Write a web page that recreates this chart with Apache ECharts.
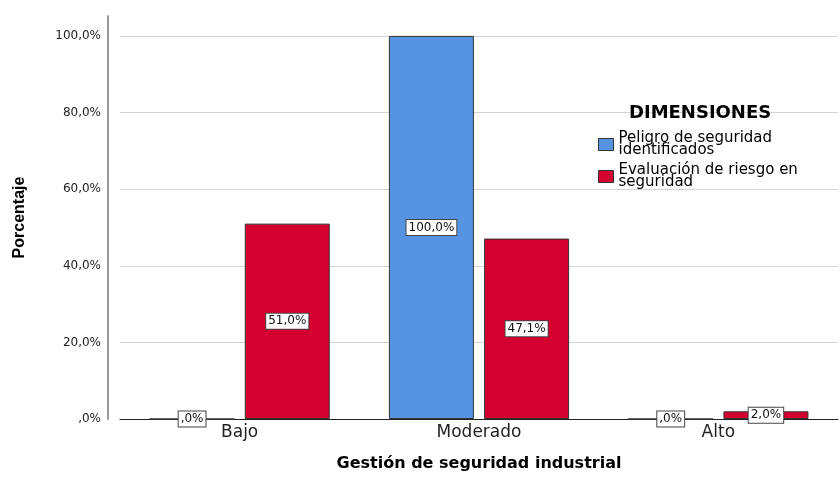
<!DOCTYPE html>
<html>
<head>
<meta charset="utf-8">
<script src="https://cdn.jsdelivr.net/npm/echarts@6/dist/echarts.min.js"></script>
<style>
  html, body { margin: 0; padding: 0; background: #fff; }
  #chart { width: 840px; height: 477px; }
</style>
</head>
<body>
<div id="chart"></div>
<script>
// Categories and percentages per dimension
const categories = ['Bajo', 'Moderado', 'Alto'];
const seriesNames = ['Peligro de seguridad identificados', 'Evaluación de riesgo en seguridad'];
const peligroValues = [0, 100, 0];
const evaluacionValues = [51, 47.1, 2];
const yTicks = [0, 20, 40, 60, 80, 100];

// SPSS-style percent text: ",0%", "51,0%"
function pct(v) {
  if (v === 0) return ',0%';
  return v.toFixed(1).replace('.', ',') + '%';
}

const colors = ['#5694E2', '#D4002F'];
const wideFont = 'DejaVu Sans, Verdana, sans-serif';

const labelStyle = {
  show: true,
  position: 'inside',
  formatter: p => pct(p.value),
  color: '#111',
  fontFamily: wideFont,
  fontSize: 12,
  backgroundColor: '#fff',
  borderColor: '#444',
  borderWidth: 1,
  padding: [2, 2, 1, 2]
};

const chart = echarts.init(document.getElementById('chart'));
chart.setOption({
  animation: false,
  backgroundColor: '#fff',
  textStyle: { fontFamily: wideFont },
  title: {
    text: 'DIMENSIONES',
    left: 624,
    top: 99,
    textStyle: { fontFamily: wideFont, fontSize: 18, fontWeight: 'bold', color: '#000' }
  },
  legend: {
    orient: 'vertical',
    left: 596,
    top: 129,
    data: seriesNames,
    icon: 'rect',
    itemWidth: 15,
    itemHeight: 12,
    itemGap: 5,
    padding: [2, 4, 2, 2],
    itemStyle: { borderColor: '#333', borderWidth: 1 },
    formatter: name => name.replace(' seguridad ', ' seguridad\n').replace(' en seguridad', ' en\nseguridad'),
    textStyle: { fontFamily: wideFont, fontSize: 15, lineHeight: 12, color: '#000', padding: [0, 0, 0, 0] }
  },
  grid: { left: 120, right: 2, top: 16, bottom: 54 },
  xAxis: {
    type: 'category',
    data: categories,
    axisLine: { lineStyle: { color: '#222', width: 1 } },
    axisTick: { show: false },
    axisLabel: { fontFamily: wideFont, fontSize: 17, color: '#222', margin: 5 },
    name: 'Gestión de seguridad industrial',
    nameLocation: 'middle',
    nameGap: 37,
    nameTextStyle: { fontFamily: wideFont, fontSize: 16, fontWeight: 'bold', color: '#000' }
  },
  yAxis: {
    type: 'value',
    min: 0,
    max: 105.2,
    interval: 20,
    offset: 12,
    axisLine: { show: true, lineStyle: { color: '#999', width: 2 } },
    axisTick: { show: false },
    axisLabel: {
      fontFamily: wideFont,
      fontSize: 12,
      color: '#222',
      margin: 7,
      showMaxLabel: false,
      formatter: v => (yTicks.indexOf(v) >= 0 ? pct(v) : '')
    },
    splitLine: { show: true, showMaxLine: false, lineStyle: { color: '#d4d4d4', width: 1 } },
    name: 'Porcentaje',
    nameLocation: 'middle',
    nameGap: 80,
    nameRotate: 90,
    nameTextStyle: { fontFamily: 'Liberation Sans, Arial, sans-serif', fontSize: 16, fontWeight: 'bold', color: '#000' }
  },
  series: [
    {
      name: seriesNames[0],
      type: 'bar',
      data: peligroValues,
      barWidth: 85,
      barGap: '12%',
      itemStyle: { color: colors[0], borderColor: '#333', borderWidth: 1 },
      label: labelStyle
    },
    {
      name: seriesNames[1],
      type: 'bar',
      data: evaluacionValues,
      barWidth: 85,
      barGap: '12%',
      itemStyle: { color: colors[1], borderColor: '#333', borderWidth: 1 },
      label: labelStyle
    }
  ]
});
</script>
</body>
</html>
